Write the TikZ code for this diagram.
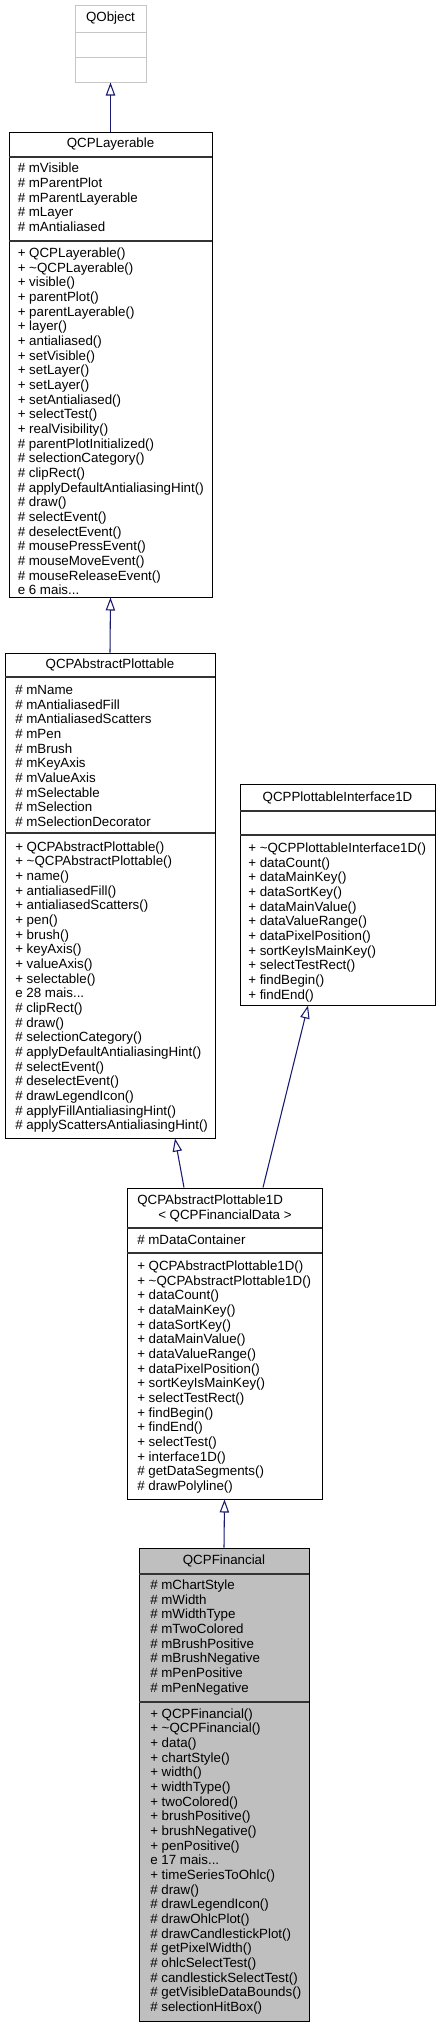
\documentclass[tikz,border=0pt]{standalone}
\usepackage{fontspec}
\setmainfont{Liberation Sans}
\usetikzlibrary{arrows.meta,fit}
\definecolor{edgeblue}{HTML}{191970}
\definecolor{boxgray}{HTML}{BFBFBF}
\newcommand{\moredots}{...}
\tikzset{
  classbox/.style={draw=black, line width=0.75pt, inner sep=0pt, fill=white},
  sep/.style={draw=black!80, line width=1pt},
  title/.style={inner sep=0pt, font=\fontsize{10}{11}\selectfont},
  member/.style={anchor=base west, inner sep=0pt, font=\fontsize{10}{11}\selectfont},
  generalization/.style={draw=edgeblue, line width=0.8pt, -{Triangle[open, length=9.75pt, width=7pt]}}
}
\begin{document}
\begin{tikzpicture}[x=0.75pt, y=-0.75pt]
  \useasboundingbox (0,0) rectangle (440,2027);

  % QObject
  \node[classbox, draw=gray!45, fit={(75,5) (146,82)}] (qobject) {};
  \draw[draw=gray!45, line width=0.75pt] (75,32) -- (146,32) (75,57) -- (146,57);
  \node[title] (qobject-t) at (110.5,18.5) {QObject};

  % QCPLayerable
  \node[classbox, fit={(9,132) (212,597)}] (layerable) {};
  \draw[sep] (9,157) -- (212,157) (9,241) -- (212,241);
  \node[title] (layerable-t) at (110.5,144.5) {QCPLayerable};
  \foreach \m [count=\i from 0] in {\# mVisible, \# mParentPlot, \# mParentLayerable, \# mLayer, \# mAntialiased}
    \node[member] (layerable-a\i) at (17.5,{172.8+14.67*\i}) {\m};
  \foreach \m [count=\i from 0] in {+ QCPLayerable(), + \textasciitilde QCPLayerable(), + visible(), + parentPlot(),
      + parentLayerable(), + layer(), + antialiased(), + setVisible(), + setLayer(), + setLayer(),
      + setAntialiased(), + selectTest(), + realVisibility(), \# parentPlotInitialized(),
      \# selectionCategory(), \# clipRect(), \# applyDefaultAntialiasingHint(), \# draw(),
      \# selectEvent(), \# deselectEvent(), \# mousePressEvent(), \# mouseMoveEvent(),
      \# mouseReleaseEvent(), e 6 mais\moredots}
    \node[member] (layerable-m\i) at (17.5,{257.5+14.67*\i}) {\m};

  % QCPAbstractPlottable
  \node[classbox, fit={(5,653) (215,1138)}] (plottable) {};
  \draw[sep] (5,677) -- (215,677) (5,833) -- (215,833);
  \node[title] (plottable-t) at (110,665) {QCPAbstractPlottable};
  \foreach \m [count=\i from 0] in {\# mName, \# mAntialiasedFill, \# mAntialiasedScatters, \# mPen, \# mBrush,
      \# mKeyAxis, \# mValueAxis, \# mSelectable, \# mSelection, \# mSelectionDecorator}
    \node[member] (plottable-a\i) at (15,{694.5+14.67*\i}) {\m};
  \foreach \m [count=\i from 0] in {+ QCPAbstractPlottable(), + \textasciitilde QCPAbstractPlottable(), + name(),
      + antialiasedFill(), + antialiasedScatters(), + pen(), + brush(), + keyAxis(), + valueAxis(),
      + selectable(), e 28 mais\moredots, \# clipRect(), \# draw(), \# selectionCategory(),
      \# applyDefaultAntialiasingHint(), \# selectEvent(), \# deselectEvent(), \# drawLegendIcon(),
      \# applyFillAntialiasingHint(), \# applyScattersAntialiasingHint()}
    \node[member] (plottable-m\i) at (15,{851+14.67*\i}) {\m};

  % QCPPlottableInterface1D
  \node[classbox, fit={(240,784) (435,1005)}] (interface) {};
  \draw[sep] (240,811) -- (435,811) (240,835) -- (435,835);
  \node[title] (interface-t) at (337.5,797.5) {QCPPlottableInterface1D};
  \foreach \m [count=\i from 0] in {+ \textasciitilde QCPPlottableInterface1D(), + dataCount(), + dataMainKey(),
      + dataSortKey(), + dataMainValue(), + dataValueRange(), + dataPixelPosition(),
      + sortKeyIsMainKey(), + selectTestRect(), + findBegin(), + findEnd()}
    \node[member] (interface-m\i) at (248,{852.5+14.67*\i}) {\m};

  % QCPAbstractPlottable1D< QCPFinancialData >
  \node[classbox, fit={(127,1188) (322,1499)}] (plot1d) {};
  \draw[sep] (127,1228) -- (322,1228) (127,1253) -- (322,1253);
  \node[member] (plot1d-t1) at (137,1204.5) {QCPAbstractPlottable1D};
  \node[member] (plot1d-t2) at (158,1219.5) {< QCPFinancialData >};
  \node[member] (plot1d-a0) at (137,1244.5) {\# mDataContainer};
  \foreach \m [count=\i from 0] in {+ QCPAbstractPlottable1D(), + \textasciitilde QCPAbstractPlottable1D(),
      + dataCount(), + dataMainKey(), + dataSortKey(), + dataMainValue(), + dataValueRange(),
      + dataPixelPosition(), + sortKeyIsMainKey(), + selectTestRect(), + findBegin(), + findEnd(),
      + selectTest(), + interface1D(), \# getDataSegments(), \# drawPolyline()}
    \node[member] (plot1d-m\i) at (137,{1270.5+14.67*\i}) {\m};

  % QCPFinancial
  \node[classbox, fill=boxgray, fit={(139,1548) (309,2021)}] (financial) {};
  \draw[sep] (139,1574) -- (309,1574) (139,1702) -- (309,1702);
  \node[title] (financial-t) at (224,1561) {QCPFinancial};
  \foreach \m [count=\i from 0] in {\# mChartStyle, \# mWidth, \# mWidthType, \# mTwoColored,
      \# mBrushPositive, \# mBrushNegative, \# mPenPositive, \# mPenNegative}
    \node[member] (financial-a\i) at (150,{1589.5+14.67*\i}) {\m};
  \foreach \m [count=\i from 0] in {+ QCPFinancial(), + \textasciitilde QCPFinancial(), + data(), + chartStyle(),
      + width(), + widthType(), + twoColored(), + brushPositive(), + brushNegative(), + penPositive(),
      e 17 mais\moredots, + timeSeriesToOhlc(), \# draw(), \# drawLegendIcon(), \# drawOhlcPlot(),
      \# drawCandlestickPlot(), \# getPixelWidth(), \# ohlcSelectTest(), \# candlestickSelectTest(),
      \# getVisibleDataBounds(), \# selectionHitBox()}
    \node[member] (financial-m\i) at (150,{1718+14.67*\i}) {\m};

  % inheritance
  \draw[generalization] (layerable.north) -- (qobject.south);
  \draw[generalization] (plottable.north) -- (layerable.south);
  \draw[generalization] (plot1d.north -| 184,0) -- (plottable.south -| 175,0);
  \draw[generalization] (plot1d.north -| 263,0) -- (interface.south -| 308,0);
  \draw[generalization] (financial.north) -- (plot1d.south);
\end{tikzpicture}
\end{document}
